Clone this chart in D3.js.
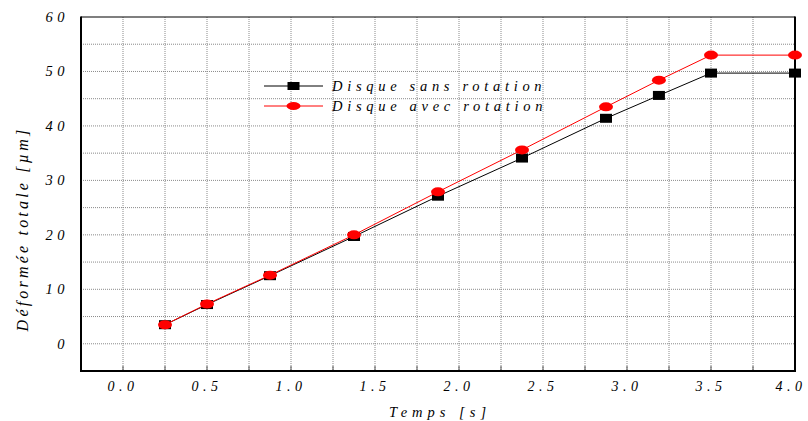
<!DOCTYPE html>
<html>
<head>
<meta charset="utf-8">
<script src="https://cdn.jsdelivr.net/npm/d3@7"></script>
<style>
  html, body { margin: 0; padding: 0; background: #fff; }
  svg { display: block; }
  text { font-family: "Liberation Serif", "Times New Roman", Times, serif; font-style: italic; fill: #000; }
</style>
</head>
<body>
<svg id="chart" width="808" height="421"></svg>
<script>
// ---- data ----
const time = [0.25, 0.5, 0.875, 1.375, 1.875, 2.375, 2.875, 3.19, 3.5, 4.0];
const sansRotation = [3.5, 7.2, 12.5, 19.7, 27.1, 34.1, 41.4, 45.6, 49.7, 49.7];
const avecRotation = [3.5, 7.3, 12.6, 20.0, 27.9, 35.6, 43.5, 48.4, 53.0, 53.0];
const seriesNames = ["Disque sans rotation", "Disque avec rotation"];
const xTickValues = [0, 0.5, 1.0, 1.5, 2.0, 2.5, 3.0, 3.5, 4.0];
const yTickValues = [0, 10, 20, 30, 40, 50, 60];
const xTitle = "Temps [s]";
const yTitle = "Déformée totale [µm]";

const svg = d3.select("#chart");
const L = 81, R = 795, T = 17, B = 371;

const x = d3.scaleLinear().domain([-0.25, 4.0]).range([L, R]);
const y = d3.scaleLinear().domain([-5, 60]).range([B, T]);

// grid
const g = svg.append("g");
g.selectAll("line.vg").data(d3.range(0, 4.0, 0.25)).join("line")
  .attr("x1", d => x(d)).attr("x2", d => x(d))
  .attr("y1", T).attr("y2", B)
  .attr("stroke", "#8a8a8a").attr("stroke-width", 1).attr("stroke-dasharray", "1,1");
g.selectAll("line.hg").data(d3.range(0, 60, 5)).join("line")
  .attr("x1", L).attr("x2", R)
  .attr("y1", d => y(d)).attr("y2", d => y(d))
  .attr("stroke", "#8a8a8a").attr("stroke-width", 1).attr("stroke-dasharray", "1,1");

// bottom inner ticks
g.selectAll("line.bt").data(d3.range(0, 4.0, 0.25)).join("line")
  .attr("x1", d => x(d)).attr("x2", d => x(d))
  .attr("y1", B - 5).attr("y2", B)
  .attr("stroke", "#555").attr("stroke-width", 1);

// frame
svg.append("line").attr("x1", L).attr("x2", R).attr("y1", T).attr("y2", T).attr("stroke", "#000").attr("stroke-width", 1.2);
svg.append("line").attr("x1", L).attr("x2", L).attr("y1", T - 0.5).attr("y2", B + 1).attr("stroke", "#000").attr("stroke-width", 2);
svg.append("line").attr("x1", R).attr("x2", R).attr("y1", T - 0.5).attr("y2", B + 1).attr("stroke", "#000").attr("stroke-width", 2);
svg.append("line").attr("x1", L).attr("x2", R + 1).attr("y1", B).attr("y2", B).attr("stroke", "#000").attr("stroke-width", 2);

// axis tick labels
svg.selectAll("text.xt").data(xTickValues).join("text")
  .attr("x", d => Math.min(x(d), 791)).attr("y", 391)
  .attr("text-anchor", "middle")
  .style("font-size", "14px").style("letter-spacing", "4.5px")
  .text(d => d.toFixed(1));
svg.selectAll("text.yt").data(yTickValues).join("text")
  .attr("x", 69).attr("y", d => y(d) + 5)
  .attr("text-anchor", "end")
  .style("font-size", "14.5px").style("letter-spacing", "4.5px")
  .text(d => d.toString());

// axis titles
svg.append("text").attr("x", 440).attr("y", 417).attr("text-anchor", "middle")
  .style("font-size", "14.5px").style("letter-spacing", "5px").text(xTitle);
svg.append("text").attr("transform", "translate(28,229) rotate(-90)").attr("text-anchor", "middle")
  .style("font-size", "16px").style("letter-spacing", "3.2px").text(yTitle);

// series
const line = d3.line().x(d => x(d[0])).y(d => y(d[1]));
const sansPts = time.map((t, i) => [t, sansRotation[i]]);
const avecPts = time.map((t, i) => [t, avecRotation[i]]);

svg.append("path").datum(sansPts).attr("d", line).attr("fill", "none").attr("stroke", "#000").attr("stroke-width", 1);
svg.selectAll("rect.m").data(sansPts).join("rect")
  .attr("x", d => x(d[0]) - 6).attr("y", d => y(d[1]) - 4.5)
  .attr("width", 12).attr("height", 9).attr("fill", "#000");

svg.append("path").datum(avecPts).attr("d", line).attr("fill", "none").attr("stroke", "#ff0000").attr("stroke-width", 1);
svg.selectAll("ellipse.m").data(avecPts).join("ellipse")
  .attr("cx", d => x(d[0])).attr("cy", d => y(d[1]))
  .attr("rx", 7).attr("ry", 4.5).attr("fill", "#ff0000");

// legend
const lg = svg.append("g");
const rows = [86, 106];
lg.append("line").attr("x1", 264).attr("x2", 323).attr("y1", rows[0]).attr("y2", rows[0]).attr("stroke", "#000").attr("stroke-width", 1);
lg.append("rect").attr("x", 293.5 - 6).attr("y", rows[0] - 4).attr("width", 12).attr("height", 8).attr("fill", "#000");
lg.append("line").attr("x1", 264).attr("x2", 323).attr("y1", rows[1]).attr("y2", rows[1]).attr("stroke", "#ff0000").attr("stroke-width", 1);
lg.append("ellipse").attr("cx", 293.5).attr("cy", rows[1]).attr("rx", 7).attr("ry", 4).attr("fill", "#ff0000");
lg.selectAll("text").data(seriesNames).join("text")
  .attr("x", 332).attr("y", (d, i) => rows[i] + 5)
  .style("font-size", "14.5px").style("letter-spacing", "4.7px")
  .text(d => d);
</script>
</body>
</html>
